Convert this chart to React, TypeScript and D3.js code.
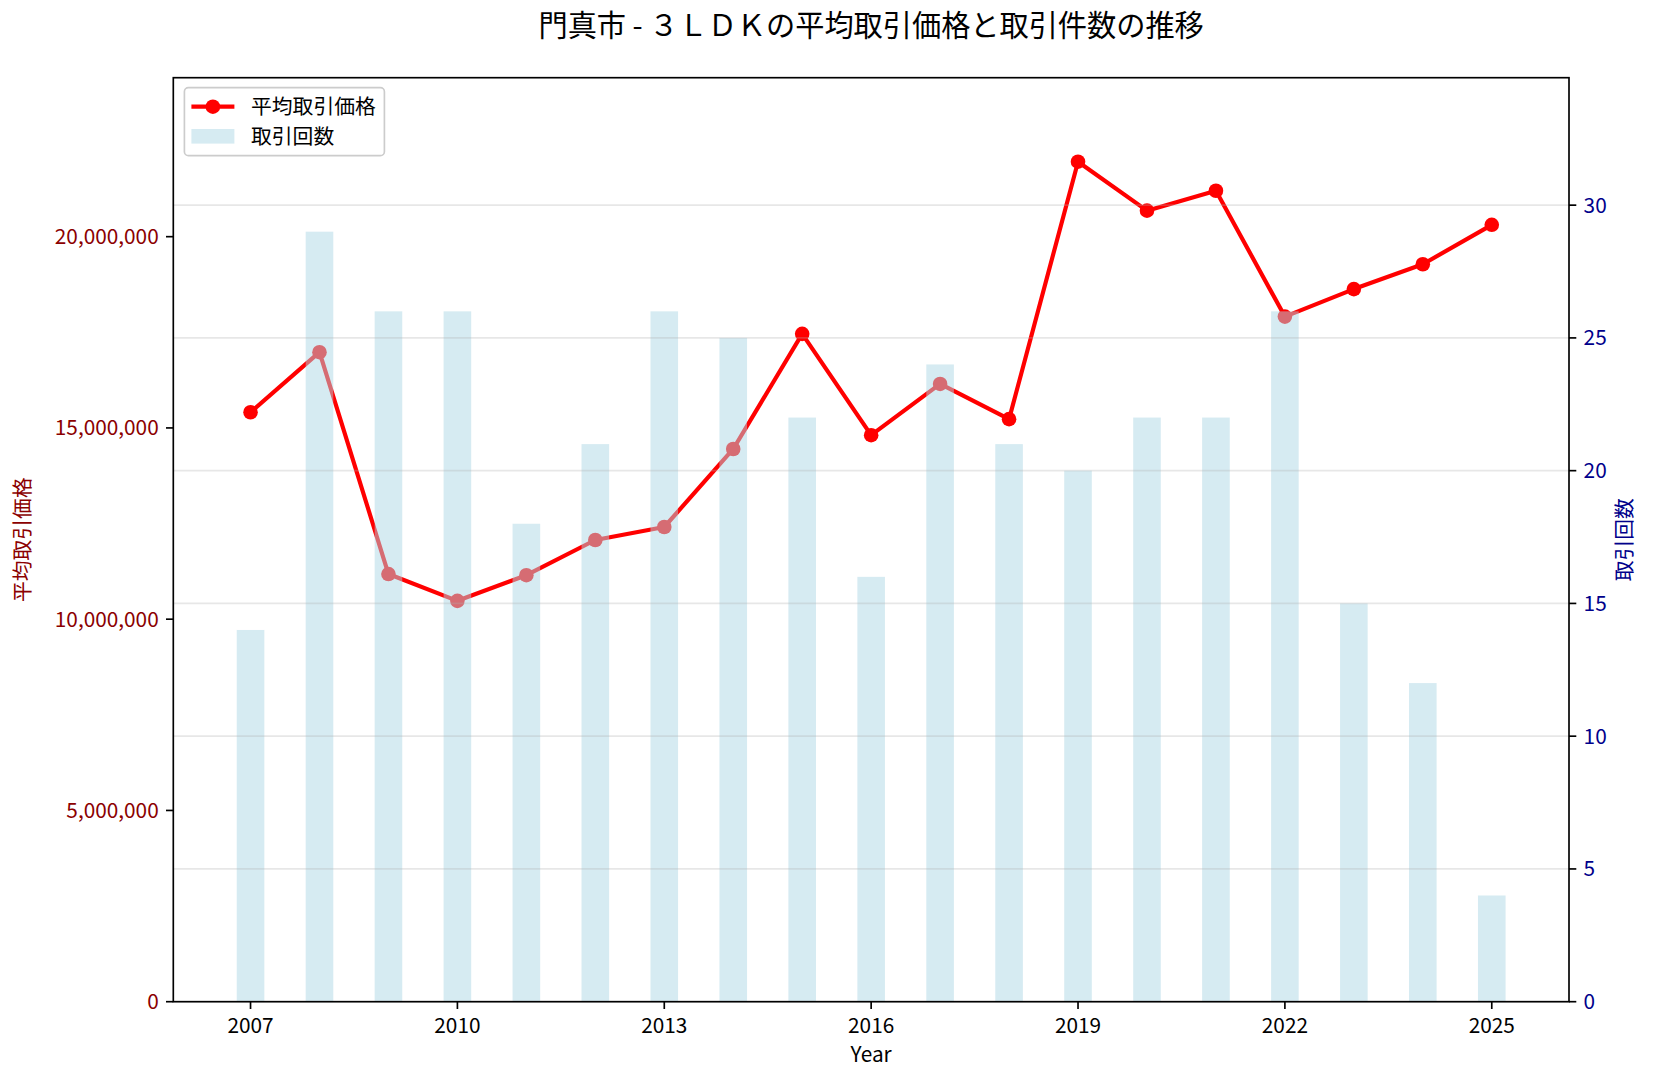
import { useEffect, useRef } from "react";
import * as d3 from "d3";

// 門真市 3LDK: average price (line, left axis) and transaction count (bars, right axis)
const YEARS = [2007, 2008, 2009, 2010, 2011, 2012, 2013, 2014, 2015, 2016, 2017, 2018, 2019, 2020, 2021, 2022, 2023, 2024, 2025];
const AVG_PRICE = [
  15410000, 16980000, 11180000, 10480000, 11150000, 12070000, 12410000, 14450000, 17460000, 14810000,
  16150000, 15230000, 21960000, 20680000, 21200000, 17910000, 18630000, 19280000, 20310000,
];
const COUNTS = [14, 29, 26, 26, 18, 21, 26, 25, 22, 16, 24, 21, 20, 22, 22, 26, 15, 12, 4];
const X_TICKS = [2007, 2010, 2013, 2016, 2019, 2022, 2025];
const PRICE_TICKS = [0, 5000000, 10000000, 15000000, 20000000];
const COUNT_TICKS = [0, 5, 10, 15, 20, 25, 30];

const TITLE = "門真市 - ３ＬＤＫの平均取引価格と取引件数の推移";
const FONT = "'Noto Sans CJK JP', 'Noto Sans', sans-serif";

export default function App() {
  const svgRef = useRef<SVGSVGElement | null>(null);

  useEffect(() => {
    document.body.style.margin = "0";
    const svg = d3.select(svgRef.current);
    svg.selectAll("*").remove();

    const W = 1653;
    const H = 1080;
    const margin = { top: 77.7, right: 84, bottom: 78.3, left: 173.3 };
    const w = W - margin.left - margin.right;
    const h = H - margin.top - margin.bottom;
    const fs = 20.8;
    const tickLen = 7.3;
    const pad = 7.3;

    svg.attr("width", W).attr("height", H).attr("font-family", FONT);
    svg.append("rect").attr("width", W).attr("height", H).attr("fill", "white");

    const g = svg.append("g").attr("transform", `translate(${margin.left},${margin.top})`);

    const x = d3.scaleLinear().domain([2005.88, 2026.12]).range([0, w]);
    const yPrice = d3.scaleLinear().domain([0, (d3.max(AVG_PRICE) ?? 1) * 1.1]).range([h, 0]);
    const yCount = d3.scaleLinear().domain([0, (d3.max(COUNTS) ?? 1) * 1.2]).range([h, 0]);
    const barW = x(2007.4) - x(2007);

    // price line (ax1, under the bars)
    const line = d3
      .line<number>()
      .x((_, i) => x(YEARS[i]))
      .y((d) => yPrice(d));
    g.append("path")
      .datum(AVG_PRICE)
      .attr("d", line)
      .attr("fill", "none")
      .attr("stroke", "red")
      .attr("stroke-width", 4.17)
      .attr("stroke-linejoin", "round");
    g.append("g")
      .selectAll("circle")
      .data(AVG_PRICE)
      .join("circle")
      .attr("cx", (_, i) => x(YEARS[i]))
      .attr("cy", (d) => yPrice(d))
      .attr("r", 7.3)
      .attr("fill", "red");

    // count bars (ax2, on top)
    g.append("g")
      .selectAll("rect")
      .data(COUNTS)
      .join("rect")
      .attr("x", (_, i) => x(YEARS[i]) - barW / 2)
      .attr("y", (d) => yCount(d))
      .attr("width", barW)
      .attr("height", (d) => h - yCount(d))
      .attr("fill", "lightblue")
      .attr("opacity", 0.5);

    // grid from the right axis
    g.append("g")
      .selectAll("line")
      .data(COUNT_TICKS)
      .join("line")
      .attr("x1", 0)
      .attr("x2", w)
      .attr("y1", (d) => yCount(d))
      .attr("y2", (d) => yCount(d))
      .attr("stroke", "#b0b0b0")
      .attr("stroke-opacity", 0.3)
      .attr("stroke-width", 1.67);

    // frame
    g.append("rect")
      .attr("width", w)
      .attr("height", h)
      .attr("fill", "none")
      .attr("stroke", "black")
      .attr("stroke-width", 1.67);

    // bottom axis
    const xAx = g.append("g").attr("transform", `translate(0,${h})`);
    X_TICKS.forEach((t) => {
      xAx.append("line").attr("x1", x(t)).attr("x2", x(t)).attr("y1", 0).attr("y2", tickLen).attr("stroke", "black").attr("stroke-width", 1.67);
      xAx.append("text").attr("x", x(t)).attr("y", tickLen + pad + 17).attr("text-anchor", "middle").attr("font-size", fs).attr("fill", "black").text(t);
    });
    g.append("text")
      .attr("x", w / 2)
      .attr("y", h + 60)
      .attr("text-anchor", "middle")
      .attr("font-size", fs)
      .attr("fill", "black")
      .text("Year");

    // left axis (price)
    const fmt = d3.format(",");
    PRICE_TICKS.forEach((t) => {
      g.append("line").attr("x1", -tickLen).attr("x2", 0).attr("y1", yPrice(t)).attr("y2", yPrice(t)).attr("stroke", "black").attr("stroke-width", 1.67);
      g.append("text")
        .attr("x", -tickLen - pad)
        .attr("y", yPrice(t))
        .attr("dy", "0.36em")
        .attr("text-anchor", "end")
        .attr("font-size", fs)
        .attr("fill", "darkred")
        .text(fmt(t));
    });
    g.append("text")
      .attr("transform", `translate(${22 - margin.left},${h / 2}) rotate(-90)`)
      .attr("text-anchor", "middle")
      .attr("dy", "0.36em")
      .attr("font-size", fs)
      .attr("fill", "darkred")
      .text("平均取引価格");

    // right axis (count)
    COUNT_TICKS.forEach((t) => {
      g.append("line").attr("x1", w).attr("x2", w + tickLen).attr("y1", yCount(t)).attr("y2", yCount(t)).attr("stroke", "black").attr("stroke-width", 1.67);
      g.append("text")
        .attr("x", w + tickLen + pad)
        .attr("y", yCount(t))
        .attr("dy", "0.36em")
        .attr("font-size", fs)
        .attr("fill", "darkblue")
        .text(t);
    });
    g.append("text")
      .attr("transform", `translate(${1624.7 - margin.left},${h / 2}) rotate(-90)`)
      .attr("text-anchor", "middle")
      .attr("dy", "0.36em")
      .attr("font-size", fs)
      .attr("fill", "darkblue")
      .text("取引回数");

    // title
    svg.append("text")
      .attr("x", margin.left + w / 2)
      .attr("y", 36)
      .attr("text-anchor", "middle")
      .attr("font-size", 29.2)
      .attr("fill", "black")
      .text(TITLE);

    // legend
    const lg = svg.append("g").attr("transform", `translate(184.4,87.7)`);
    lg.append("rect")
      .attr("width", 200)
      .attr("height", 68)
      .attr("rx", 4)
      .attr("fill", "white")
      .attr("fill-opacity", 0.8)
      .attr("stroke", "#cccccc")
      .attr("stroke-width", 1.67);
    lg.append("line").attr("x1", 7).attr("x2", 50).attr("y1", 19).attr("y2", 19).attr("stroke", "red").attr("stroke-width", 4.17);
    lg.append("circle").attr("cx", 28.5).attr("cy", 19).attr("r", 7.3).attr("fill", "red");
    lg.append("text").attr("x", 66.6).attr("y", 19).attr("dy", "0.36em").attr("font-size", fs).attr("fill", "black").text("平均取引価格");
    lg.append("rect").attr("x", 7).attr("y", 41.3).attr("width", 43).attr("height", 14.6).attr("fill", "lightblue").attr("opacity", 0.5);
    lg.append("text").attr("x", 66.6).attr("y", 48.5).attr("dy", "0.36em").attr("font-size", fs).attr("fill", "black").text("取引回数");
  }, []);

  return <svg ref={svgRef} style={{ display: "block" }} />;
}
